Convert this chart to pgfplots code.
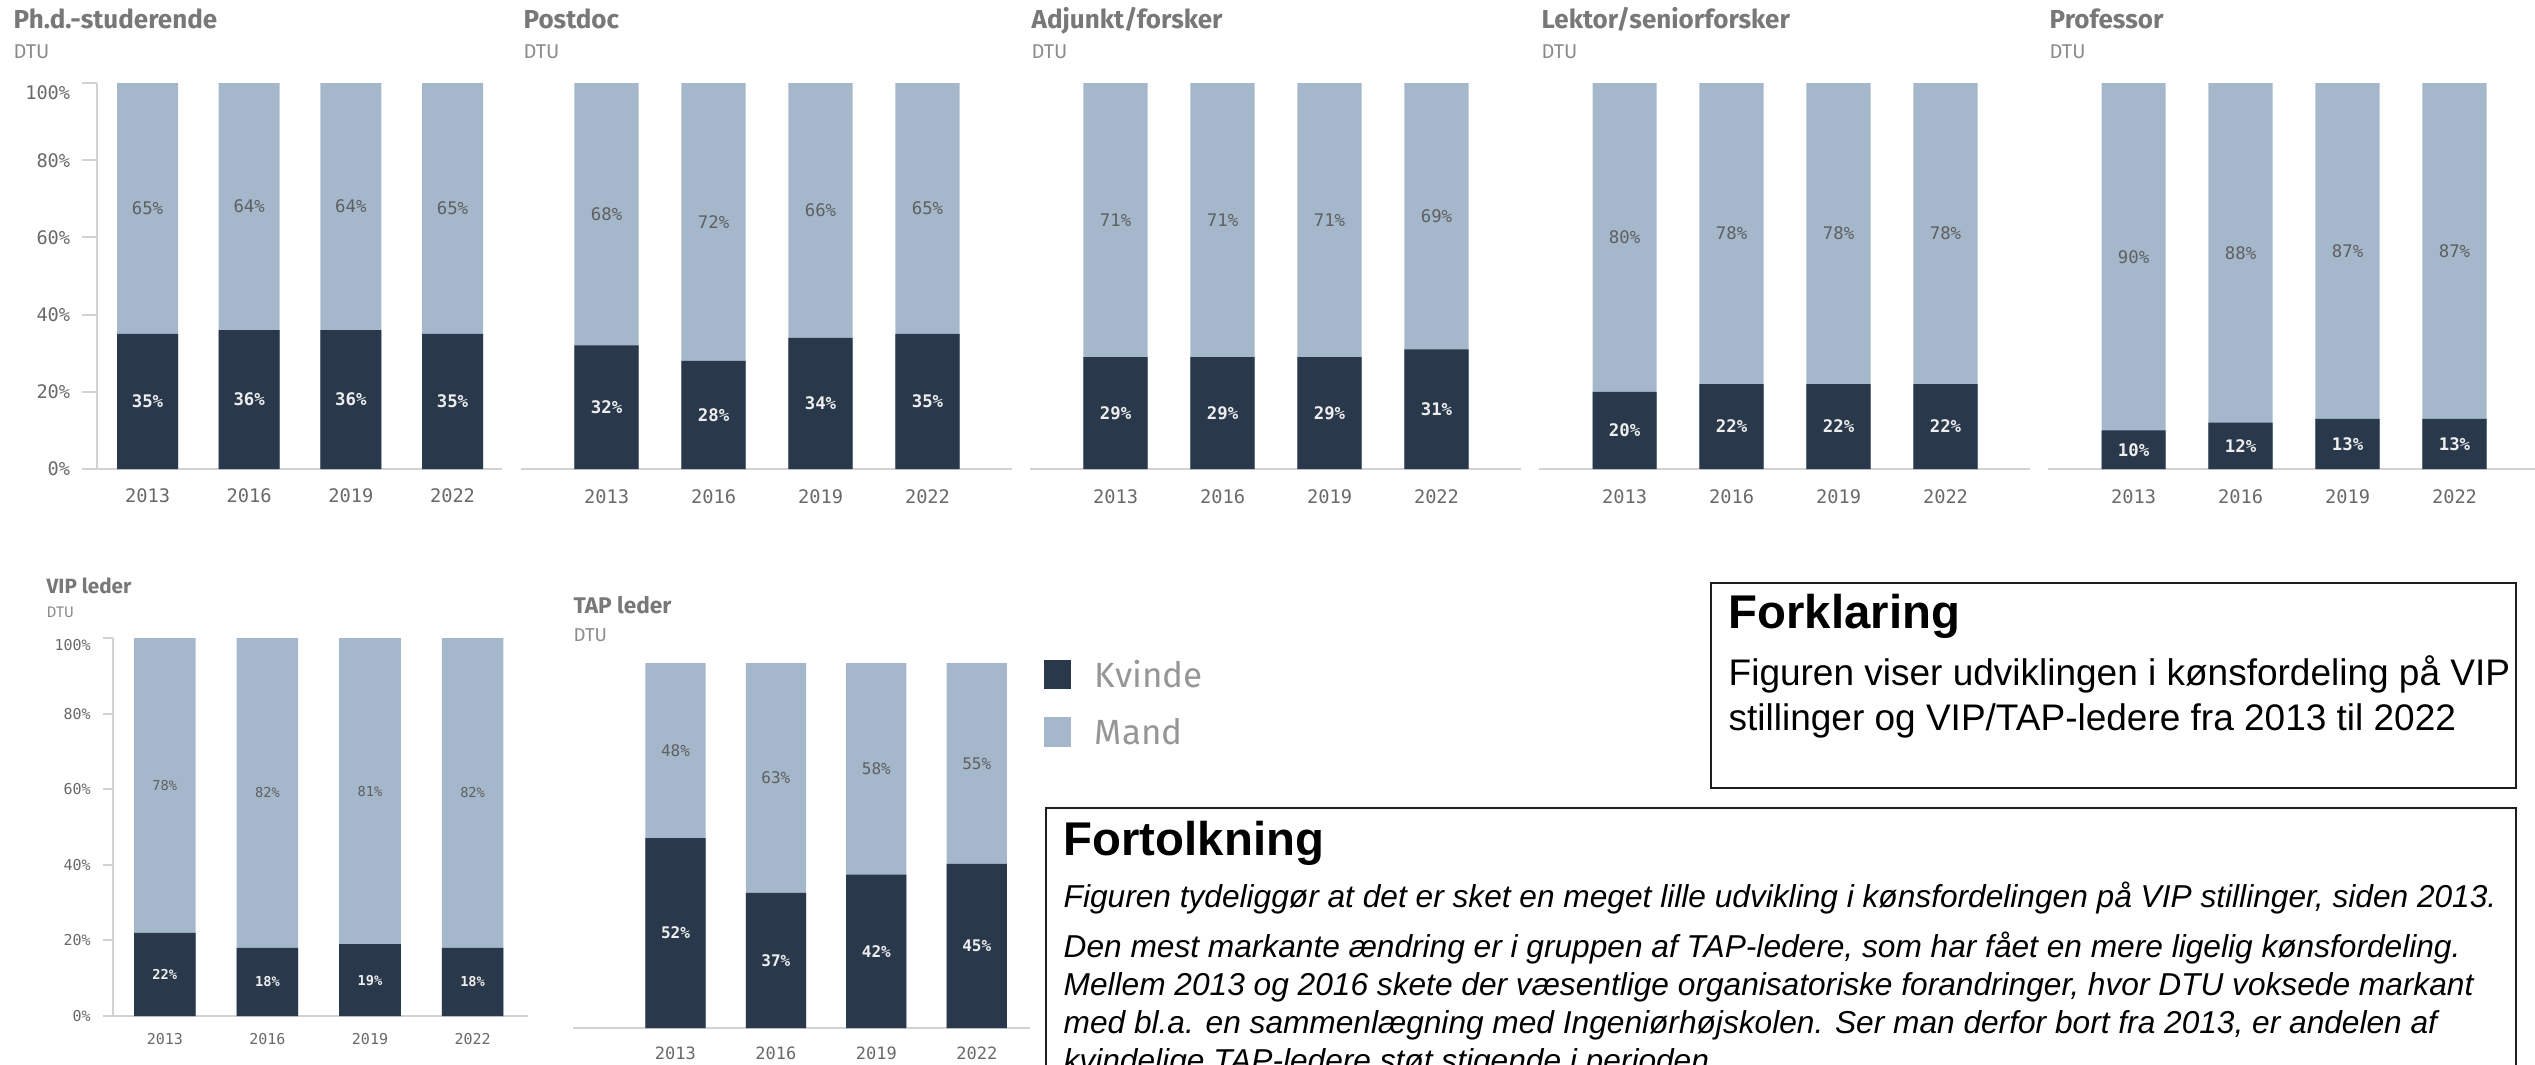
\documentclass[border=0pt]{standalone}
\usepackage{fontspec}
\setmainfont{Liberation Sans}
\newfontfamily\monof{DejaVu Sans Mono}
\newfontfamily\titlef{Fira Sans}
\usepackage{pgfplots}
\usepackage{pgfplotstable}
\pgfplotsset{compat=1.18}

\definecolor{darkbar}{RGB}{41,56,74}
\definecolor{lightbar}{RGB}{164,183,203}
\definecolor{axisgray}{RGB}{210,210,210}
\definecolor{tickgray}{RGB}{105,105,105}
\definecolor{lightlab}{RGB}{95,95,95}
\definecolor{darklab}{RGB}{238,238,238}
\definecolor{titlegray}{RGB}{120,120,120}
\definecolor{dtugray}{RGB}{140,140,140}
\definecolor{legendgray}{RGB}{150,150,150}
\definecolor{boxline}{RGB}{30,30,30}

\pgfplotstableread{
x k m
0 35 65
1 36 64
2 36 64
3 35 65
}\tabPhd
\pgfplotstableread{
x k m
0 32 68
1 28 72
2 34 66
3 35 65
}\tabPost
\pgfplotstableread{
x k m
0 29 71
1 29 71
2 29 71
3 31 69
}\tabAdj
\pgfplotstableread{
x k m
0 20 80
1 22 78
2 22 78
3 22 78
}\tabLek
\pgfplotstableread{
x k m
0 10 90
1 12 88
2 13 87
3 13 87
}\tabProf
\pgfplotstableread{
x k m
0 22 78
1 18 82
2 19 81
3 18 82
}\tabVIP
\pgfplotstableread{
x k m
0 52 48
1 37 63
2 42 58
3 45 55
}\tabTAP

\pgfplotsset{
  /pgf/number format/assume math mode=true,
  panel/.style={
    scale only axis, anchor=south west,
    ymin=0, ymax=100,
    xtick={0,1,2,3}, xticklabels={2013,2016,2019,2022},
    axis line style={draw=axisgray, line width=0.6pt},
    xtick style={draw=none},
  },
  noy/.style={axis x line*=bottom, axis y line=none},
  withy/.style={axis x line*=bottom, axis y line*=left,
    ytick={0,20,40,60,80}, extra y ticks={100},
    extra y tick style={yticklabel style={yshift=-#1}},
    yticklabel={\pgfmathprintnumber{\tick}\%},
    ytick style={draw=axisgray, line width=0.6pt},
    tick align=outside},
  ticksz/.style={tick label style={font=\monof\fontsize{#1}{#1}\selectfont, text=tickgray}},
}

\newcommand{\panelplots}[2]{%
  \addplot[forget plot, ybar, bar width=0.6, fill=lightbar, draw=none]
    table[x=x, y expr=\thisrow{k}+\thisrow{m}] {#1};
  \addplot[forget plot, ybar, bar width=0.6, fill=darkbar, draw=none]
    table[x=x, y=k] {#1};
  \addplot[forget plot, draw=none, mark=none, point meta=\thisrow{k},
    nodes near coords={\pgfmathprintnumber{\pgfplotspointmeta}\%},
    every node near coord/.style={anchor=center, inner sep=0pt, text=darklab,
      font=\monof\bfseries\fontsize{#2}{#2}\selectfont}]
    table[x=x, y expr=\thisrow{k}/2] {#1};
  \addplot[forget plot, draw=none, mark=none, point meta=\thisrow{m},
    nodes near coords={\pgfmathprintnumber{\pgfplotspointmeta}\%},
    every node near coord/.style={anchor=center, inner sep=0pt, text=lightlab,
      font=\monof\fontsize{#2}{#2}\selectfont}]
    table[x=x, y expr=\thisrow{k}+\thisrow{m}/2] {#1};
}

\begin{document}
\begin{tikzpicture}

% ---------- top row ----------
\begin{axis}[panel, withy=3pt, ticksz=5.6, major tick length=4.5pt,
  at={(29.1pt,-140.7pt)}, width=121.5pt, height=115.8pt,
  xmin=-0.497, xmax=3.487, xticklabel style={yshift=2.2pt}]
  \panelplots{\tabPhd}{5.2}
\end{axis}

\begin{axis}[panel, noy, ticksz=5.6,
  at={(156.3pt,-140.7pt)}, width=147.3pt, height=115.8pt,
  xmin=-0.8, xmax=3.79, xticklabel style={yshift=-2.7pt}]
  \panelplots{\tabPost}{5.2}
\end{axis}

\begin{axis}[panel, noy, ticksz=5.6,
  at={(309pt,-140.7pt)}, width=147.3pt, height=115.8pt,
  xmin=-0.8, xmax=3.79, xticklabel style={yshift=-2.7pt}]
  \panelplots{\tabAdj}{5.2}
\end{axis}

\begin{axis}[panel, noy, ticksz=5.6,
  at={(461.7pt,-140.7pt)}, width=147.3pt, height=115.8pt,
  xmin=-0.8, xmax=3.79, xticklabel style={yshift=-2.7pt}]
  \panelplots{\tabLek}{5.2}
\end{axis}

\begin{axis}[panel, noy, ticksz=5.6,
  at={(614.4pt,-140.7pt)}, width=147.3pt, height=115.8pt,
  xmin=-0.8, xmax=3.79, xticklabel style={yshift=-2.7pt}]
  \panelplots{\tabProf}{5.2}
\end{axis}

% ---------- bottom row ----------
\begin{axis}[panel, withy=2pt, ticksz=4.5, major tick length=3pt,
  at={(33.75pt,-304.8pt)}, width=124.65pt, height=113.4pt,
  xmin=-0.51, xmax=3.54, xticklabel style={yshift=1.3pt}]
  \panelplots{\tabVIP}{4.1}
\end{axis}

\begin{axis}[panel, noy, ticksz=5.1,
  at={(171.9pt,-308.4pt)}, width=137.1pt, height=109.5pt,
  xmin=-1.02, xmax=3.53, xticklabel style={yshift=-2.0pt},
  legend style={at={(axis description cs:1.0284,1.011)}, anchor=north west,
    draw=none, fill=none, inner sep=0pt, row sep=7.5pt,
    font=\titlef\fontsize{10.5}{12}\selectfont,
    nodes={inner sep=0pt, text=legendgray},
    /tikz/every odd column/.append style={column sep=7.2pt}},
  legend cell align=left]
  \panelplots{\tabTAP}{4.8}
  \addlegendimage{legend image code/.code={\fill[darkbar] (0pt,-3.6pt) rectangle (7.8pt,4.8pt);}}
  \addlegendentry{Kvinde}
  \addlegendimage{legend image code/.code={\fill[lightbar] (0pt,-3.6pt) rectangle (7.8pt,4.8pt);}}
  \addlegendentry{Mand}
\end{axis}

% ---------- titles and text boxes ----------
\begin{scope}[x=0.3pt, y=-0.3pt]
  \tikzset{ttl/.style={anchor=base west, inner sep=0pt, text=titlegray,
      font=\titlef\bfseries\fontsize{#1}{#1}\selectfont},
    sub/.style={anchor=base west, inner sep=0pt, text=dtugray,
      font=\titlef\fontsize{#1}{#1}\selectfont}}
  \node[ttl=7.8] at (13,28) {Ph.d.-studerende};
  \node[sub=6] at (13,58) {DTU};
  \node[ttl=7.8] at (523,28) {Postdoc};
  \node[sub=6] at (523,58) {DTU};
  \node[ttl=7.8] at (1031,28) {Adjunkt/forsker};
  \node[sub=6] at (1031,58) {DTU};
  \node[ttl=7.8] at (1541,28) {Lektor/seniorforsker};
  \node[sub=6] at (1541,58) {DTU};
  \node[ttl=7.8] at (2049,28) {Professor};
  \node[sub=6] at (2049,58) {DTU};
  \node[ttl=6.2] at (46,593) {VIP leder};
  \node[sub=4.6] at (46,617) {DTU};
  \node[ttl=6.8] at (573,613) {TAP leder};
  \node[sub=5.6] at (573,641) {DTU};

  \draw[line width=0.6pt, draw=boxline] (1711,583) rectangle (2516,788);
  \node[anchor=base west, inner sep=0pt, font=\bfseries\fontsize{14.2}{16}\selectfont] at (1728,628) {Forklaring};
  \node[anchor=base west, inner sep=0pt, font=\fontsize{11.1}{13}\selectfont] at (1728,685) {Figuren viser udviklingen i kønsfordeling på VIP};
  \node[anchor=base west, inner sep=0pt, font=\fontsize{11.1}{13}\selectfont] at (1728,730) {stillinger og VIP/TAP-ledere fra 2013 til 2022};

  \draw[line width=0.6pt, draw=boxline] (1046,1100) -- (1046,808) -- (2516,808) -- (2516,1100);
  \node[anchor=base west, inner sep=0pt, font=\bfseries\fontsize{14.2}{16}\selectfont] at (1063,855) {Fortolkning};
  \tikzset{it/.style={anchor=base west, inner sep=0pt, font=\itshape\fontsize{9.5}{11}\selectfont}}
  \node[it] at (1063,907) {Figuren tydeliggør at det er sket en meget lille udvikling i kønsfordelingen på VIP stillinger, siden 2013.};
  \node[it] at (1063,957) {Den mest markante ændring er i gruppen af TAP-ledere, som har fået en mere ligelig kønsfordeling.};
  \node[it] at (1063,995) {Mellem 2013 og 2016 skete der væsentlige organisatoriske forandringer, hvor DTU voksede markant};
  \node[it] at (1063,1033) {med bl.a. en sammenlægning med Ingeniørhøjskolen. Ser man derfor bort fra 2013, er andelen af};
  \node[it] at (1063,1071) {kvindelige TAP-ledere støt stigende i perioden.};
\end{scope}

\pgfresetboundingbox
\useasboundingbox (0pt,0pt) rectangle (760.5pt,-319.2pt);
\end{tikzpicture}
\end{document}
